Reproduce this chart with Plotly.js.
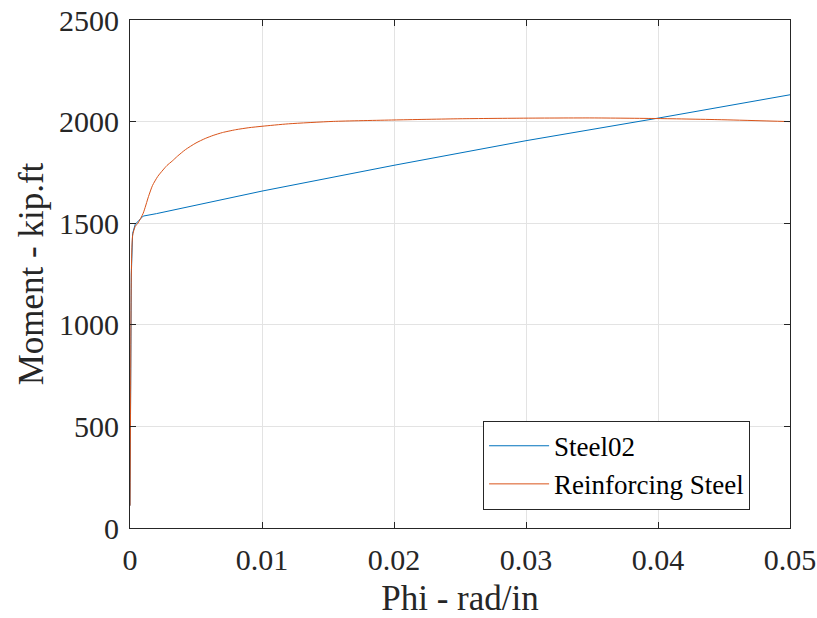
<!DOCTYPE html>
<html>
<head>
<meta charset="utf-8">
<script src="https://cdn.plot.ly/plotly-3.0.1.min.js"></script>
<style>
html,body{margin:0;padding:0;background:#fff;}
</style>
</head>
<body>
<div id="chart" style="width:817px;height:618px;"></div>
<script>
// Steel02 series (Phi rad/in, Moment kip.ft)
const steel02Phi = [0, 0.00005, 0.0001, 0.0002, 0.0004, 0.0007, 0.001, 0.002, 0.005, 0.01, 0.02, 0.03, 0.04, 0.05];
const steel02M   = [110, 700, 1250, 1450, 1495, 1515, 1535, 1547, 1590, 1658, 1785, 1906, 2017, 2132];
// Reinforcing Steel series
const rsPhi = [0, 0.00005, 0.0001, 0.0002, 0.0004, 0.0006, 0.001, 0.0014, 0.0017, 0.0021, 0.0025, 0.0028, 0.0032, 0.0036, 0.0042, 0.005, 0.0057, 0.0063, 0.007, 0.008, 0.009, 0.01, 0.012, 0.0154, 0.02, 0.025, 0.03, 0.035, 0.04, 0.045, 0.05];
const rsM   = [110, 700, 1250, 1440, 1485, 1500, 1549, 1631, 1685, 1730, 1762, 1784, 1806, 1830, 1862, 1895, 1917, 1932, 1946, 1960, 1970, 1977, 1989, 2001, 2008, 2014, 2017, 2018, 2015, 2009, 2000];
const seriesNames = ["Steel02", "Reinforcing Steel"];
const xTicks = [0, 0.01, 0.02, 0.03, 0.04, 0.05];
const xTickText = ["0", "0.01", "0.02", "0.03", "0.04", "0.05"];
const yTicks = [0, 500, 1000, 1500, 2000, 2500];

const FONT = "Liberation Serif";
const traces = [
  {x: steel02Phi, y: steel02M, name: seriesNames[0], mode: "lines",
   line: {color: "#0072BD", width: 1}},
  {x: rsPhi, y: rsM, name: seriesNames[1], mode: "lines",
   line: {color: "#D95319", width: 1, shape: "spline", smoothing: 0.6}}
];
function makeLayout(tickSize, legSize) {
  function axis(extra) {
    return Object.assign({
      showline: true, linecolor: "#262626", linewidth: 1, mirror: "ticks",
      ticks: "inside", ticklen: 6, tickcolor: "#262626", tickwidth: 1,
      showgrid: true, gridcolor: "#e3e3e3", gridwidth: 1, zeroline: false,
      tickfont: {family: FONT, size: tickSize, color: "#262626"}
    }, extra);
  }
  return {
    width: 817, height: 618,
    font: {family: FONT, size: tickSize, color: "#262626"},
    margin: {l: 130, r: 27, t: 20, b: 90},
    paper_bgcolor: "#fff", plot_bgcolor: "#fff",
    showlegend: true,
    legend: {x: 0.535, y: 0.036, xanchor: "left", yanchor: "bottom",
      bordercolor: "#262626", borderwidth: 1, bgcolor: "#fff",
      font: {family: FONT, size: legSize, color: "#000"},
      itemwidth: 60, tracegroupgap: 0},
    xaxis: axis({
      range: [0, 0.05], tickvals: xTicks, ticktext: xTickText, ticklabelstandoff: 5,
      title: {text: "Phi - rad/in", font: {family: FONT, size: 35, color: "#262626"}, standoff: 11}
    }),
    yaxis: axis({
      range: [0, 2500], tickvals: yTicks, ticklabelstandoff: 4,
      title: {text: "Moment - kip.ft", font: {family: FONT, size: 35, color: "#262626"}, standoff: 4}
    })
  };
}
const config = {staticPlot: true, displayModeBar: false};
Plotly.newPlot("chart", traces, makeLayout(30.2, 27.2), config).then(function () {
  setTimeout(function () {
    Plotly.react("chart", traces, makeLayout(30, 27), config).then(function () {
      document.querySelectorAll("#chart text").forEach(function (t) {
        t.style.fontFamily = '"Liberation Serif", "Times New Roman", serif';
      });
    });
  }, 150);
});
</script>
</body>
</html>
